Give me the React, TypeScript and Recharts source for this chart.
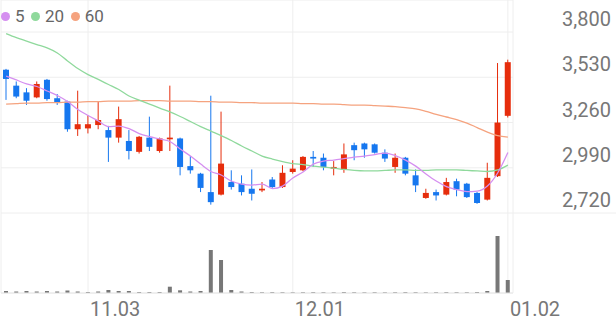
import { ComposedChart, Bar, Line, XAxis, YAxis, CartesianGrid } from "recharts"

const dates = [
  "10.22", "10.23", "10.24", "10.27", "10.28", "10.29", "10.30", "10.31",
  "11.03", "11.04", "11.05", "11.06", "11.07", "11.10", "11.11", "11.12", "11.13", "11.14",
  "11.17", "11.18", "11.19", "11.20", "11.21", "11.24", "11.25", "11.26", "11.27", "11.28",
  "12.01", "12.02", "12.03", "12.04", "12.05", "12.08", "12.09", "12.10", "12.11", "12.12",
  "12.15", "12.16", "12.17", "12.18", "12.19", "12.22", "12.23", "12.24", "12.26", "12.29",
  "12.30", "01.02",
]

const opens = [
  3575, 3480, 3440, 3410, 3515, 3405, 3385, 3220, 3225, 3245, 3215, 3170, 3150, 3085, 3170, 3090,
  3160, 3165, 3000, 2955, 2845, 2830, 2905, 2895, 2865, 2855, 2920, 2875, 2965, 2975, 3055, 3050,
  2985, 2980, 3125, 3135, 3130, 3080, 2995, 3050, 2945, 2810, 2845, 2830, 2910, 2895, 2840, 2800,
  2940, 3300,
]
const highs = [
  3580, 3505, 3465, 3505, 3520, 3430, 3390, 3450, 3305, 3385, 3240, 3355, 3215, 3180, 3295, 3170,
  3480, 3170, 3060, 2960, 3420, 3325, 2975, 2945, 2980, 2905, 2935, 3005, 3035, 3060, 3090, 3075,
  3030, 3135, 3140, 3140, 3135, 3100, 3075, 3055, 2980, 2865, 2860, 2930, 2925, 2900, 2845, 3020,
  3615, 3635,
]
const lows = [
  3395, 3405, 3365, 3405, 3390, 3365, 3205, 3180, 3195, 3220, 3025, 3140, 3040, 3075, 3090, 3080,
  3090, 2945, 2955, 2845, 2770, 2825, 2860, 2825, 2795, 2845, 2870, 2870, 2955, 2970, 2995, 2975,
  2945, 2960, 3035, 3050, 3075, 3025, 2960, 2945, 2845, 2805, 2795, 2825, 2820, 2810, 2775, 2795,
  2935, 3290,
]
const closes = [
  3520, 3415, 3390, 3490, 3400, 3380, 3220, 3250, 3250, 3275, 3170, 3280, 3090, 3175, 3115, 3165,
  3170, 2995, 2975, 2870, 2785, 3015, 2875, 2845, 2835, 2865, 2875, 2960, 2985, 3055, 3045, 2995,
  2995, 3070, 3095, 3100, 3080, 3045, 3050, 2955, 2885, 2840, 2825, 2905, 2860, 2815, 2780, 2930,
  3260, 3620,
]
// volume, thousand shares
const volumes = [
  200, 150, 200, 150, 200, 150, 250, 150, 100, 150, 300, 200, 200, 100, 100, 100,
  630, 270, 150, 200, 4300, 3300, 300, 150, 100, 80, 90, 80, 70, 80, 90, 80,
  70, 100, 80, 70, 80, 70, 80, 90, 80, 70, 80, 90, 80, 80, 100, 200,
  5700, 1300,
]

const ma5 = [
  3537, 3514, 3490, 3475, 3448, 3421, 3385, 3338, 3302, 3269, 3236, 3239, 3224, 3194, 3176, 3162,
  3147, 3102, 3060, 3012, 2968, 2947, 2911, 2893, 2887, 2893, 2866, 2881, 2929, 2965, 3012, 3030,
  3036, 3045, 3054, 3060, 3069, 3078, 3063, 3036, 3000, 2953, 2911, 2878, 2860, 2848, 2851, 2881,
  2959, 3081,
]
const ma20 = [
  3791, 3767, 3746, 3725, 3705, 3675, 3627, 3582, 3546, 3517, 3487, 3457, 3418, 3394, 3370, 3346,
  3323, 3296, 3266, 3236, 3209, 3182, 3153, 3120, 3090, 3060, 3042, 3027, 3015, 3009, 3000, 2994,
  2988, 2980, 2974, 2971, 2971, 2974, 2977, 2977, 2974, 2974, 2977, 2977, 2977, 2974, 2971, 2968,
  2977, 3006,
]
const ma60 = [
  3370, 3373, 3376, 3376, 3379, 3379, 3382, 3382, 3385, 3385, 3388, 3388, 3388, 3391, 3391, 3391,
  3388, 3388, 3388, 3385, 3385, 3382, 3382, 3379, 3379, 3376, 3376, 3376, 3376, 3373, 3373, 3370,
  3370, 3367, 3364, 3364, 3361, 3358, 3355, 3349, 3341, 3326, 3308, 3293, 3278, 3257, 3230, 3203,
  3182, 3173,
]

const maPeriods = ["5", "20", "60"]
const priceTicks = [2720, 2990, 3260, 3530, 3800]
const dateTicks = ["11.03", "12.01", "01.02"]

const data = dates.map((date, i) => ({
  date,
  open: opens[i],
  high: highs[i],
  low: lows[i],
  close: closes[i],
  volume: volumes[i],
  ma5: ma5[i],
  ma20: ma20[i],
  ma60: ma60[i],
}))

const W = 616
const H = 321
const AXIS_W = 103
const RED = "#e62d0c"
const BLUE = "#1677ef"
const MA_COLORS = ["#d58ff0", "#8fd99c", "#f5a37f"]
const GRID = "#eeeeee"
const FONT = "Roboto, sans-serif"

function Candle(props: any) {
  const { x, y, width, height, payload } = props
  const { open, close, high, low } = payload
  const top = Math.min(y, y + height)
  const h = Math.abs(height)
  const py = (p: number) => (high === low ? top : top + ((high - p) / (high - low)) * h)
  const color = close >= open ? RED : BLUE
  const cx = x + width / 2
  const bodyTop = py(Math.max(open, close))
  const bodyH = Math.max(1.5, py(Math.min(open, close)) - bodyTop)
  return (
    <g>
      <line x1={cx} x2={cx} y1={top} y2={top + h} stroke={color} strokeWidth={1} />
      <rect x={x} y={bodyTop} width={width} height={bodyH} fill={color} />
    </g>
  )
}

function DateTick({ x, y, payload }: any) {
  return (
    <text x={x + 2} y={y + 23} fill="#777" fontSize={20} fontFamily={FONT}>
      {payload.value}
    </text>
  )
}

function PriceTick({ x, y, payload }: any) {
  return (
    <g>
      {payload.value === priceTicks[0] && (
        <line x1={x} x2={x + AXIS_W} y1={y} y2={y} stroke={GRID} />
      )}
      <text x={x + AXIS_W - 5} y={y - 6} fill="#777" fontSize={20} fontFamily={FONT} textAnchor="end">
        {payload.value.toLocaleString("en-US")}
      </text>
    </g>
  )
}

// carries the volume baseline out under the price axis
function BaseTick({ y }: any) {
  return <line x1={W - AXIS_W} x2={W} y1={y} y2={y} stroke="#e6e6e6" />
}

function MaLegend() {
  return (
    <div
      style={{
        position: "absolute",
        left: 1,
        top: 5,
        display: "flex",
        alignItems: "center",
        fontFamily: FONT,
        fontSize: 17,
        lineHeight: "22px",
        color: "#666",
      }}
    >
      {maPeriods.map((p, i) => (
        <span key={p} style={{ display: "flex", alignItems: "center", marginRight: 6.5 }}>
          <span
            style={{
              width: 9,
              height: 9,
              borderRadius: "50%",
              background: MA_COLORS[i],
              marginRight: 5,
            }}
          />
          {p}
        </span>
      ))}
    </div>
  )
}

export default function App() {
  return (
    <div style={{ position: "relative", width: W, height: H }}>
      <style>{"body{margin:0}"}</style>
      <ComposedChart width={W} height={H} data={data} margin={{ top: 0, right: 0, bottom: 0, left: 1 }}>
        <CartesianGrid xAxisId="a" yAxisId="p" stroke={GRID} />
        <XAxis
          xAxisId="a"
          dataKey="date"
          ticks={dateTicks}
          interval={0}
          height={28}
          tickSize={0}
          tickMargin={0}
          tickLine={false}
          axisLine={{ stroke: "#e6e6e6" }}
          tick={<DateTick />}
        />
        <XAxis xAxisId="b" dataKey="date" hide />
        <YAxis
          yAxisId="p"
          orientation="right"
          width={AXIS_W}
          domain={[2243, 3991]}
          allowDataOverflow
          ticks={priceTicks}
          tickSize={0}
          tickMargin={0}
          tickLine={false}
          axisLine={false}
          tick={<PriceTick />}
        />
        <YAxis
          yAxisId="v"
          orientation="right"
          width={0}
          domain={[0, 29300]}
          allowDataOverflow
          ticks={[0]}
          tickSize={0}
          tickMargin={0}
          tickLine={false}
          axisLine={false}
          tick={<BaseTick />}
        />
        <Line xAxisId="a" yAxisId="p" type="monotone" dataKey="ma60" stroke={MA_COLORS[2]} strokeWidth={1.3} dot={false} isAnimationActive={false} />
        <Line xAxisId="a" yAxisId="p" type="monotone" dataKey="ma20" stroke={MA_COLORS[1]} strokeWidth={1.3} dot={false} isAnimationActive={false} />
        <Line xAxisId="a" yAxisId="p" type="monotone" dataKey="ma5" stroke={MA_COLORS[0]} strokeWidth={1.3} dot={false} isAnimationActive={false} />
        <Bar
          xAxisId="a"
          yAxisId="p"
          dataKey={(d: any) => [d.low, d.high]}
          barSize={6}
          shape={<Candle />}
          isAnimationActive={false}
        />
        <Bar xAxisId="b" yAxisId="v" dataKey="volume" barSize={4} fill="#777" isAnimationActive={false} />
      </ComposedChart>
      <MaLegend />
    </div>
  )
}
